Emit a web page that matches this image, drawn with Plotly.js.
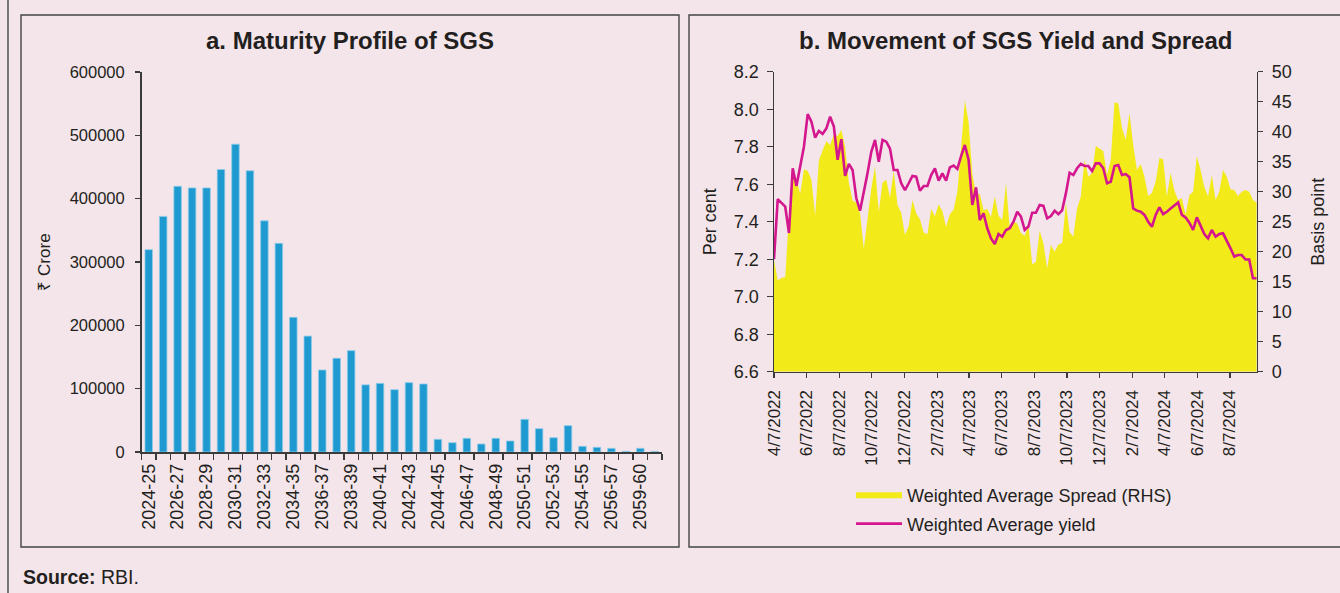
<!DOCTYPE html>
<html><head><meta charset="utf-8">
<script src="https://cdn.plot.ly/plotly-3.0.1.min.js"></script>
<style>html,body{margin:0;padding:0;background:#f3e5ea;}</style>
</head><body><div id="chart" style="width:1340px;height:593px;"></div>
<script>
// ---------- Panel a: Maturity profile of SGS (₹ crore) ----------
const maturityYears = ["2024-25","2025-26","2026-27","2027-28","2028-29","2029-30","2030-31","2031-32","2032-33","2033-34",
  "2034-35","2035-36","2036-37","2037-38","2038-39","2039-40","2040-41","2041-42","2042-43","2043-44",
  "2044-45","2045-46","2046-47","2047-48","2048-49","2049-50","2050-51","2051-52","2052-53","2053-54",
  "2054-55","2055-56","2056-57","2057-58","2059-60","2060-61"];
const maturityAmounts = [319500,372000,419500,417000,417000,446000,486000,444000,365000,329500,
  212600,183000,129500,148000,160000,106000,108400,98400,109500,107400,
  20000,14700,21600,12600,21600,17400,51600,36800,22600,41600,
  9000,7400,5800,1000,5800,1000];
const maturityTickLabels = ["2024-25","2026-27","2028-29","2030-31","2032-33","2034-35","2036-37","2038-39","2040-41",
  "2042-43","2044-45","2046-47","2048-49","2050-51","2052-53","2054-55","2056-57","2059-60"];

// ---------- Panel b: weekly SGS yield (%) and spread (bps) ----------
const weekDates = [
 "2022-04-07","2022-04-14","2022-04-21","2022-04-28","2022-05-05","2022-05-12","2022-05-19","2022-05-26",
 "2022-06-02","2022-06-09","2022-06-16","2022-06-23","2022-06-30","2022-07-07","2022-07-14","2022-07-21","2022-07-28",
 "2022-08-04","2022-08-11","2022-08-18","2022-08-25","2022-09-01","2022-09-08","2022-09-15","2022-09-22","2022-09-29",
 "2022-10-06","2022-10-13","2022-10-20","2022-10-27","2022-11-03","2022-11-10","2022-11-17","2022-11-24",
 "2022-12-01","2022-12-08","2022-12-15","2022-12-22","2022-12-29",
 "2023-01-05","2023-01-12","2023-01-19","2023-01-26","2023-02-02","2023-02-09","2023-02-16","2023-02-23",
 "2023-03-02","2023-03-09","2023-03-16","2023-03-23","2023-03-30","2023-04-06","2023-04-13","2023-04-20","2023-04-27",
 "2023-05-04","2023-05-11","2023-05-18","2023-05-25","2023-06-01","2023-06-08","2023-06-15","2023-06-22","2023-06-29",
 "2023-07-06","2023-07-13","2023-07-20","2023-07-27","2023-08-03","2023-08-10","2023-08-17","2023-08-24","2023-08-31",
 "2023-09-07","2023-09-14","2023-09-21","2023-09-28","2023-10-05","2023-10-12","2023-10-19","2023-10-26",
 "2023-11-02","2023-11-09","2023-11-16","2023-11-23","2023-11-30","2023-12-07","2023-12-14","2023-12-21","2023-12-28",
 "2024-01-04","2024-01-11","2024-01-18","2024-01-25","2024-02-01","2024-02-08","2024-02-15","2024-02-22","2024-02-29",
 "2024-03-07","2024-03-14","2024-03-21","2024-03-28","2024-04-04","2024-04-11","2024-04-18","2024-04-25",
 "2024-05-02","2024-05-09","2024-05-16","2024-05-23","2024-05-30","2024-06-06","2024-06-13","2024-06-20","2024-06-27",
 "2024-07-04","2024-07-11","2024-07-18","2024-07-25","2024-08-01","2024-08-08","2024-08-15","2024-08-22","2024-08-29",
 "2024-09-05","2024-09-12","2024-09-19","2024-09-26"];
const weightedAvgYield = [
 7.20,7.52,7.50,7.48,7.34,7.685,7.59,7.70,7.80,7.974,
 7.933,7.848,7.884,7.868,7.898,7.96,7.907,7.73,7.84,7.644,
 7.708,7.676,7.525,7.459,7.551,7.66,7.773,7.836,7.72,7.836,
 7.827,7.79,7.676,7.676,7.605,7.569,7.605,7.644,7.64,7.565,
 7.59,7.59,7.649,7.685,7.619,7.658,7.619,7.69,7.699,7.681,
 7.75,7.809,7.73,7.489,7.583,7.409,7.445,7.365,7.311,7.281,
 7.334,7.32,7.356,7.365,7.40,7.453,7.427,7.356,7.374,7.448,
 7.448,7.489,7.484,7.418,7.43,7.459,7.44,7.46,7.551,7.661,
 7.649,7.685,7.708,7.697,7.697,7.67,7.711,7.711,7.685,7.605,
 7.613,7.697,7.702,7.649,7.654,7.637,7.471,7.459,7.453,7.436,
 7.40,7.373,7.436,7.477,7.44,7.453,7.471,7.489,7.503,7.436,
 7.423,7.395,7.356,7.423,7.382,7.334,7.311,7.356,7.32,7.334,
 7.338,7.302,7.258,7.214,7.222,7.222,7.198,7.198,7.098,7.098];
const weightedAvgSpread = [
 18.6,15.2,15.6,15.8,26,33.7,32,29.6,33.7,33.5,
 32,26,35.2,36.9,38.4,37.8,39.5,39.3,40.3,37.5,
 31.5,28.5,28.2,26.4,20.5,25.5,30.5,34.2,26.6,31.5,
 32,29,33.5,27.8,26.5,22.8,24.3,28.6,26.4,25.4,
 23.2,22.9,27.1,25.9,27.9,26.8,24.1,26.3,27,30,
 37.3,45.2,41.6,33,29.5,29.6,26.9,27.1,25.8,29.2,
 26,25.3,31.4,23.9,25.0,24.7,23.1,22.6,24.4,17.9,
 18.3,23.5,21.4,17.2,21.1,20,21.2,21.4,28.1,23.3,
 22.5,27.2,29.2,35.3,32.5,33.1,37.6,37.2,36.8,32.8,
 35.3,44.9,44.7,40.6,38.6,43.1,37.8,33.6,34.6,32.5,
 29.3,29.8,31.7,35.6,35.4,29.2,33.1,30.2,28.6,28.9,
 26.1,29.4,30,35.9,33.6,30.8,29.2,32.8,28.6,30,
 33.6,32.5,30.4,30.3,29.3,30,30.3,30,28.6,28.2];
const dateTickVals = ["2022-04-07","2022-06-07","2022-08-07","2022-10-07","2022-12-07","2023-02-07","2023-04-07",
 "2023-06-07","2023-08-07","2023-10-07","2023-12-07","2024-02-07","2024-04-07","2024-06-07","2024-08-07"];
const dateTickText = ["4/7/2022","6/7/2022","8/7/2022","10/7/2022","12/7/2022","2/7/2023","4/7/2023",
 "6/7/2023","8/7/2023","10/7/2023","12/7/2023","2/7/2024","4/7/2024","6/7/2024","8/7/2024"];

// ---------- layout helpers (pixel -> paper, margins are zero) ----------
const W = 1340, H = 593;
const px = v => v / W;
const py = v => (H - v) / H;

const FONT = "Liberation Sans, Arial, Helvetica, sans-serif";
const INK = "#231f20";
const AXIS = "#3b3b3b";
const BG = "#f3e5ea";

const traces = [
  {
    type: "bar", x: maturityYears, y: maturityAmounts, xaxis: "x", yaxis: "y",
    marker: {color: "#1e9ad0", line: {color: "#8fcbea", width: 0.8}},
    showlegend: false, hoverinfo: "x+y"
  },
  {
    type: "scatter", mode: "none", x: weekDates, y: weightedAvgSpread, xaxis: "x2", yaxis: "y2",
    fill: "tozeroy", fillcolor: "#f2ea19", name: "Weighted Average Spread (RHS)",
    legendgroup: "g1"
  },
  {
    type: "scatter", mode: "lines", x: weekDates, y: weightedAvgYield, xaxis: "x2", yaxis: "y3",
    line: {color: "#d4178e", width: 2.6}, name: "Weighted Average yield",
    legendgroup: "g2"
  }
];

const catTickText = maturityYears.map(c => maturityTickLabels.includes(c) ? c : "");

const layout = {
  width: W, height: H,
  margin: {l: 0, r: 0, t: 0, b: 0, pad: 0},
  paper_bgcolor: BG, plot_bgcolor: "rgba(0,0,0,0)",
  font: {family: FONT, color: INK, size: 18},
  bargap: 0.48,
  showlegend: true,
  legend: {
    x: px(851), y: py(477), xanchor: "left", yanchor: "top",
    bgcolor: "rgba(0,0,0,0)", font: {size: 18, color: INK},
    itemwidth: 46, traceorder: "grouped", tracegroupgap: 2
  },
  xaxis: {
    domain: [px(141.5), px(662)], anchor: "y", type: "category",
    tickmode: "array", tickvals: maturityYears, ticktext: catTickText,
    tickson: "boundaries", ticks: "outside", ticklen: 6, tickwidth: 1.3, tickcolor: AXIS,
    tickangle: -90, tickfont: {size: 18, color: INK}, ticklabelstandoff: 3,
    showline: true, linecolor: AXIS, linewidth: 1.5, showgrid: false, zeroline: false
  },
  yaxis: {
    domain: [py(452), py(72)], anchor: "x", range: [0, 600000],
    tickmode: "linear", tick0: 0, dtick: 100000, tickformat: "d",
    ticks: "outside", ticklen: 5, tickwidth: 1.3, tickcolor: AXIS,
    tickfont: {size: 16.5, color: INK}, ticklabelstandoff: 7,
    showline: true, linecolor: AXIS, linewidth: 1.5, showgrid: false, zeroline: false,
    title: {text: "₹ Crore", font: {size: 17, color: INK}, standoff: 14}
  },
  xaxis2: {
    domain: [px(774), px(1256.7)], anchor: "y2", type: "date",
    range: ["2022-04-07", "2024-09-26"],
    tickmode: "array", tickvals: dateTickVals, ticktext: dateTickText,
    ticks: "outside", ticklen: 5, tickwidth: 1.3, tickcolor: AXIS,
    tickangle: -90, tickfont: {size: 17, color: INK}, ticklabelstandoff: 5,
    showline: true, linecolor: AXIS, linewidth: 1.5, showgrid: false, zeroline: false
  },
  yaxis2: {
    domain: [py(371.7), py(71.7)], anchor: "x2", side: "right", range: [0, 50],
    tickmode: "linear", tick0: 0, dtick: 5,
    ticks: "outside", ticklen: 5, tickwidth: 1.3, tickcolor: AXIS,
    tickfont: {size: 18, color: INK}, ticklabelstandoff: 5,
    showline: true, linecolor: AXIS, linewidth: 1.5, showgrid: false, zeroline: false,
    title: {text: "Basis point", font: {size: 18, color: INK}, standoff: 20}
  },
  yaxis3: {
    overlaying: "y2", anchor: "x2", side: "left", range: [6.6, 8.2],
    tickmode: "linear", tick0: 6.6, dtick: 0.2, tickformat: ".1f",
    ticks: "outside", ticklen: 6, tickwidth: 1.3, tickcolor: AXIS,
    tickfont: {size: 18, color: INK}, ticklabelstandoff: 4,
    showline: true, linecolor: AXIS, linewidth: 1.5, showgrid: false, zeroline: false,
    title: {text: "Per cent", font: {size: 18, color: INK}, standoff: 12}
  },
  annotations: [
    {text: "<b>a. Maturity Profile of SGS</b>", xref: "paper", yref: "paper",
     x: px(349.5), y: py(40), xanchor: "center", yanchor: "middle", showarrow: false,
     font: {size: 24, color: INK}},
    {text: "<b>b. Movement of SGS Yield and Spread</b>", xref: "paper", yref: "paper",
     x: px(1016), y: py(40), xanchor: "center", yanchor: "middle", showarrow: false,
     font: {size: 24, color: INK}},
    {text: "<b>Source:</b> RBI.", xref: "paper", yref: "paper",
     x: px(21), y: py(577), xanchor: "left", yanchor: "middle", showarrow: false,
     font: {size: 19.5, color: INK}}
  ],
  shapes: [
    {type: "line", xref: "paper", yref: "paper", x0: px(8), x1: px(8), y0: 0, y1: 1,
     line: {color: "#444", width: 1.4}},
    {type: "rect", xref: "paper", yref: "paper", x0: px(21), x1: px(679), y0: py(547), y1: py(15),
     line: {color: "#444", width: 1.4}},
    {type: "rect", xref: "paper", yref: "paper", x0: px(689), x1: px(1346), y0: py(547), y1: py(15),
     line: {color: "#444", width: 1.4}}
  ]
};

Plotly.newPlot("chart", traces, layout, {staticPlot: true, displayModeBar: false});
</script></body></html>
